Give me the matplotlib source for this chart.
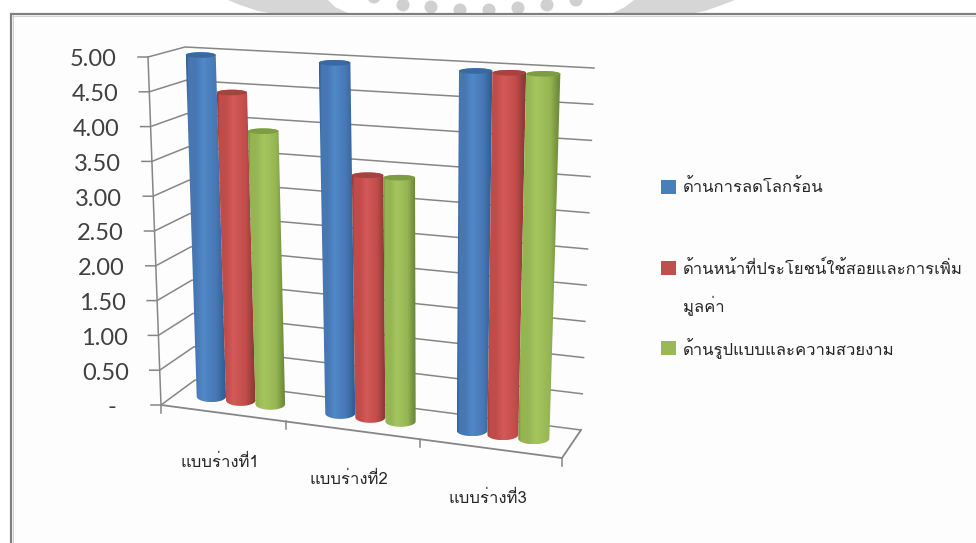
import numpy as np
import matplotlib
matplotlib.use('Agg')
import matplotlib.pyplot as plt
from matplotlib.patches import Polygon, Rectangle, Circle

# chart data
categories = ['แบบร่างที่1', 'แบบร่างที่2', 'แบบร่างที่3']
series_names = ['ด้านการลดโลกร้อน',
                'ด้านหน้าที่ประโยชน์ใช้สอยและการเพิ่ม\nมูลค่า',
                'ด้านรูปแบบและความสวยงาม']
blue_values = [4.98, 4.97, 4.96]
red_values = [4.46, 3.41, 4.96]
green_values = [3.93, 3.41, 4.97]
tick_values = [0, 0.5, 1, 1.5, 2, 2.5, 3, 3.5, 4, 4.5, 5]
tick_labels = ['-', '0.50', '1.00', '1.50', '2.00', '2.50', '3.00', '3.50', '4.00', '4.50', '5.00']

THAI = ['Loma', 'Sarabun', 'DejaVu Sans']
GRID = '#868686'

# plane corners in pixels: front-left, front-right, back-right, back-left
FLOOR = [(161, 405), (562, 458), (581, 430), (195, 380)]
CEIL = [(148, 57), (576, 80), (594, 68), (185, 47)]
# category tick places along the front edge
TICK_U = [0, 0.955, 1.96, 3]


def homography(quad):
    src = [(0, 0), (3, 0), (3, 1), (0, 1)]
    A, b = [], []
    for (u, d), (x, y) in zip(src, quad):
        A.append([u, d, 1, 0, 0, 0, -u * x, -d * x])
        A.append([0, 0, 0, u, d, 1, -u * y, -d * y])
        b += [x, y]
    return np.append(np.linalg.solve(np.array(A, float), np.array(b, float)), 1).reshape(3, 3)


H_FLOOR = homography(FLOOR)
H_CEIL = homography(CEIL)


def project(u, d, val):
    p0 = H_FLOOR @ [u, d, 1]
    p1 = H_CEIL @ [u, d, 1]
    p0 = p0[:2] / p0[2]
    p1 = p1[:2] / p1[2]
    return p0 + (p1 - p0) * val / 5.0


fig = plt.figure(figsize=(9.76, 5.43), dpi=100)
ax = fig.add_axes([0, 0, 1, 1])
ax.set_xlim(0, 976)
ax.set_ylim(543, 0)
ax.axis('off')
ax.set_autoscale_on(False)

# seal showing above the frame
for pts in ([(228, 0), (240, 5), (258, 11), (275, 14), (350, 14), (335, 7), (328, 0)],
            [(735, 0), (722, 5), (705, 11), (690, 14), (611, 14), (625, 7), (634, 0)]):
    ax.add_patch(Polygon(pts, color='#d6d6d6', lw=0, zorder=0))
for cx, cy in [(374, -3), (403, 5), (431, 7), (460, 10), (489, 10), (518, 8), (547, 5), (576, 0)]:
    ax.add_patch(Circle((cx, cy), 6.5, color='#d0d0d0', lw=0, zorder=0))

# frame
ax.add_patch(Rectangle((11, 14), 970, 535, fc='#fdfdfd', ec='none', zorder=1))
ax.plot([10.5, 10.5, 980], [548, 13.5, 13.5], color='#7f7f7f', lw=1.6, zorder=2,
        solid_joinstyle='miter')
ax.plot([12.5, 12.5], [548, 15], color='#cfcfcf', lw=0.8, zorder=2)
ax.plot([12, 980], [15.5, 15.5], color='#d4d4d4', lw=0.8, zorder=2)

# walls and value ticks
for v, lab in zip(tick_values, tick_labels):
    fl = project(0, 0, v)
    bl = project(0, 1, v)
    br = project(3, 1, v)
    ax.plot([fl[0] - 10, fl[0], bl[0], br[0]], [fl[1], fl[1], bl[1], br[1]],
            color=GRID, lw=1.1, zorder=3)
    tx = fl[0] - 31 if lab != '-' else fl[0] - 45
    ax.text(tx, fl[1] + 1, lab, ha='right', va='center_baseline', family='Lato', fontsize=17,
            color='#404040', zorder=6)
top = project(0, 0, 5)
bot = project(0, 0, 0)
ax.plot([top[0], bot[0]], [top[1], bot[1]], color=GRID, lw=1.1, zorder=3)

# floor front edge, side edge, category ticks and labels
fa, fb, fc = project(0, 0, 0), project(3, 0, 0), project(3, 1, 0)
ax.plot([fa[0], fb[0], fc[0]], [fa[1], fb[1], fc[1]], color=GRID, lw=1.3, zorder=3)
for u in TICK_U:
    p = project(u, 0, 0)
    ax.plot([p[0], p[0]], [p[1], p[1] + 8], color=GRID, lw=1.1, zorder=3)
for i, name in enumerate(categories):
    p = project((TICK_U[i] + TICK_U[i + 1]) / 2, 0, 0)
    ax.text(p[0] - 3, p[1] + 50, name, ha='center', va='center', family=THAI,
            fontsize=12, color='#262626', zorder=6)


def draw_cylinder(u, val, width, colors, zorder):
    edge, mid, hi, cap = colors
    lb = project(u - width / 2, 0.5, 0)
    rb = project(u + width / 2, 0.5, 0)
    lt = project(u - width / 2, 0.5, val)
    rt = project(u + width / 2, 0.5, val)
    t = np.linspace(0, np.pi, 30)
    # ellipse arcs closing the bottom and top of the body, both level
    y_bot = (lb[1] + rb[1]) / 2
    y_top = (lt[1] + rt[1]) / 2
    bx = lb[0] + (rb[0] - lb[0]) * (1 - np.cos(t)) / 2
    by = y_bot + 5.5 * np.sin(t)
    tx = lt[0] + (rt[0] - lt[0]) * (1 - np.cos(t)) / 2
    body = np.vstack([np.c_[bx, by], np.c_[tx[::-1], y_top - 2.8 * np.sin(t[::-1])]])
    patch = Polygon(body, closed=True, fc='none', ec='none', zorder=zorder)
    ax.add_patch(patch)

    stops = [0, 0.06, 0.22, 0.42, 0.75, 0.95, 1]
    shades = [edge, mid, mid, hi, mid, edge, edge]
    rgb = np.array([matplotlib.colors.to_rgb(c) for c in shades])
    xs = np.linspace(0, 1, 64)
    grad = np.stack([np.interp(xs, stops, rgb[:, k]) for k in range(3)], axis=-1)[None, :, :]
    xmin, xmax = body[:, 0].min(), body[:, 0].max()
    ymin, ymax = body[:, 1].min(), body[:, 1].max()
    im = ax.imshow(grad, extent=(xmin, xmax, ymax, ymin), aspect='auto',
                   interpolation='bilinear', zorder=zorder)
    im.set_clip_path(patch)

    capx = np.r_[tx, tx[::-1]]
    capy = np.r_[y_top + 2.8 * np.sin(t), y_top - 2.8 * np.sin(t[::-1])]
    ax.add_patch(Polygon(np.c_[capx, capy], closed=True, fc=cap, ec='none', zorder=zorder + 0.1))


blue = ('#2f5f96', '#4677b3', '#5188c8', '#386a9f')
red = ('#8f3a38', '#c04c4a', '#d25a58', '#a64341')
green = ('#6f8c3a', '#94b552', '#a5c65e', '#7e9c42')
palette = [blue, red, green]
all_values = [blue_values, red_values, green_values]

bar_w = 0.23
for i in range(3):
    for s in range(3):
        u = i + 0.49 + (s - 1) * bar_w
        draw_cylinder(u, all_values[s][i], bar_w, palette[s], 4 + 0.2 * (i * 3 + s))

# legend
swatches = ['#4a7ebb', '#c0504d', '#98b954']
legend_y = [187, 268, 348]
for name, col, y in zip(series_names, swatches, legend_y):
    ax.add_patch(Rectangle((661, y - 7), 15, 14, fc=col, ec='none', zorder=6))
    lines = name.split('\n')
    ax.text(683, y + 1, lines[0], ha='left', va='center', family=THAI, fontsize=12,
            color='#262626', zorder=6)
    if len(lines) > 1:
        ax.text(683, y + 38, lines[1], ha='left', va='center', family=THAI, fontsize=12,
                color='#262626', zorder=6)

fig.savefig('out.png', dpi=100)
